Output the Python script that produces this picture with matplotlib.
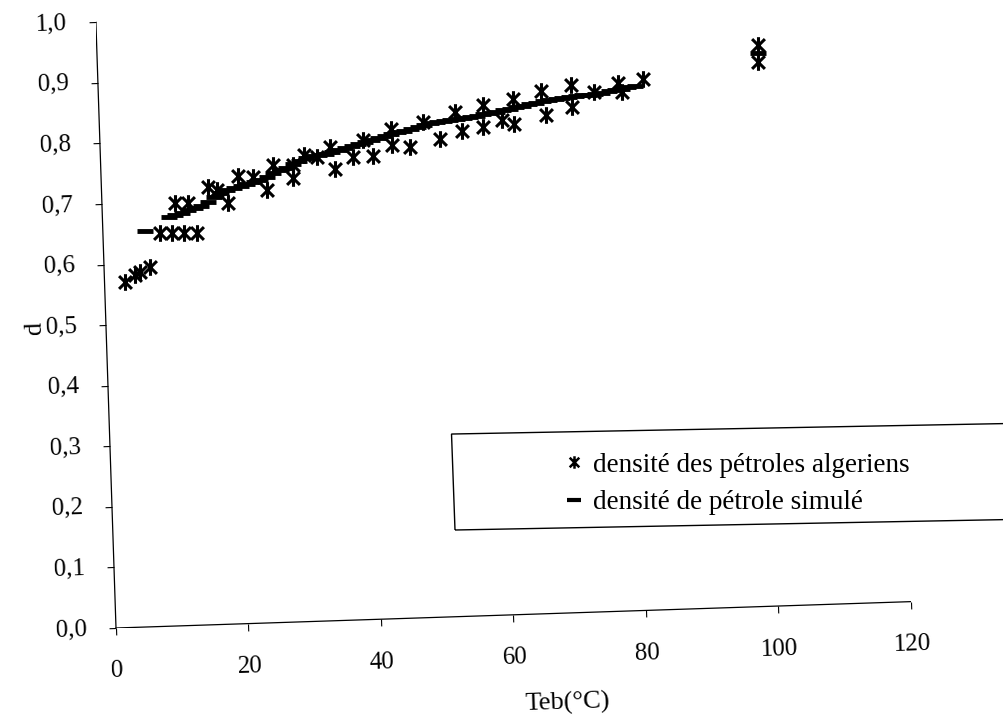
import numpy as np
import matplotlib.pyplot as plt
from matplotlib.path import Path
from matplotlib.lines import Line2D
from matplotlib.patches import Rectangle
from matplotlib.transforms import Affine2D
import mpl_toolkits.axisartist.floating_axes as floating_axes
from mpl_toolkits.axisartist.grid_finder import FixedLocator, DictFormatter

plt.rcParams['font.family'] = ['Liberation Serif', 'DejaVu Serif']

# =========================
# Data
# =========================
# measured densities of Algerian crude fractions
teb_mesure = [3.1, 4.6, 5.4, 6.9,
              8.6, 10.4, 12.2, 14.2,
              11.0, 13.0, 16.1, 17.4, 19.0, 20.7, 22.9, 25.0, 26.0,
              29.0, 29.0, 30.7, 32.7, 34.7, 35.4, 38.1, 39.7, 41.2,
              44.0, 44.1, 46.8, 48.9, 51.4, 53.8, 54.7, 58.0, 57.9,
              60.8, 62.6, 62.5, 66.8, 67.5, 71.4, 71.4, 74.8, 78.4,
              79.0, 82.3,
              99.7, 99.7]
d_mesure = [0.570, 0.581, 0.586, 0.594,
            0.649, 0.649, 0.648, 0.647,
            0.698, 0.697, 0.723, 0.717, 0.694, 0.739, 0.737, 0.714, 0.755,
            0.733, 0.754, 0.770, 0.765, 0.782, 0.745, 0.764, 0.792, 0.765,
            0.808, 0.782, 0.778, 0.818, 0.789, 0.833, 0.801, 0.843, 0.807,
            0.817, 0.851, 0.810, 0.863, 0.823, 0.871, 0.835, 0.858, 0.872,
            0.857, 0.877,
            0.927, 0.899]

# simulated density
teb_simule = [6.4, 10, 11, 12, 13, 14, 15, 16, 17, 18, 19, 20, 21, 22, 23,
              24, 25, 26, 27, 28, 29, 30, 31, 32, 33, 34, 35, 36, 37, 38,
              39, 40, 41, 42, 43, 44, 45, 46, 47, 48, 49, 50, 51, 52, 53,
              54, 55, 56, 57, 58, 59, 60, 61, 62, 63, 64, 65, 66, 67, 68,
              69, 70, 71, 72, 73, 74, 75, 76, 77, 78, 79, 80, 81, 99.7]
d_simule = [0.653, 0.675, 0.678, 0.681, 0.685, 0.688, 0.692, 0.698, 0.706,
            0.712, 0.716, 0.719, 0.722, 0.725, 0.728, 0.731, 0.736, 0.741,
            0.746, 0.750, 0.755, 0.760, 0.765, 0.767, 0.769, 0.771, 0.774,
            0.776, 0.779, 0.782, 0.785, 0.788, 0.791, 0.793, 0.796, 0.799,
            0.802, 0.804, 0.807, 0.810, 0.813, 0.815, 0.817, 0.818, 0.819,
            0.820, 0.822, 0.824, 0.825, 0.827, 0.829, 0.831, 0.833, 0.835,
            0.837, 0.839, 0.841, 0.843, 0.845, 0.847, 0.849, 0.850, 0.851,
            0.852, 0.853, 0.854, 0.855, 0.856, 0.858, 0.860, 0.862, 0.864,
            0.866, 0.913]

x_ticks = [0, 20, 40, 60, 80, 100, 120]
y_ticks = [0.0, 0.1, 0.2, 0.3, 0.4, 0.5, 0.6, 0.7, 0.8, 0.9, 1.0]
y_tick_labels = ["0,0", "0,1", "0,2", "0,3", "0,4", "0,5",
                 "0,6", "0,7", "0,8", "0,9", "1,0"]

# =========================
# Figure and tilted axes
# =========================
W, H = 1004, 725
fig = plt.figure(figsize=(W / 100, H / 100), dpi=100)

angle = 1.9              # page tilt (deg)
len_x, len_y = 795, 606  # axis lengths in pixels
origin = (116, 97)       # axis origin in figure pixels

tr = Affine2D().scale(len_x / 120, len_y / 1.0).rotate_deg(angle)

grid_helper = floating_axes.GridHelperCurveLinear(
    tr, extremes=(0, 120, 0, 1),
    grid_locator1=FixedLocator(x_ticks),
    grid_locator2=FixedLocator(y_ticks),
    tick_formatter1=DictFormatter({v: str(v) for v in x_ticks}),
    tick_formatter2=DictFormatter(dict(zip(y_ticks, y_tick_labels))))

corners = tr.transform([(0, 0), (120, 0), (0, 1), (120, 1)])
xmin, ymin = corners.min(axis=0)
xmax, ymax = corners.max(axis=0)
rect = [(origin[0] + xmin) / W, (origin[1] + ymin) / H,
        (xmax - xmin) / W, (ymax - ymin) / H]

ax = fig.add_axes(rect, axes_class=floating_axes.FloatingAxes,
                  grid_helper=grid_helper)
ax.set_xlim(xmin, xmax)
ax.set_ylim(ymin, ymax)
ax.patch.set_visible(False)

for side in ("top", "right"):
    ax.axis[side].set_visible(False)

for side in ("left", "bottom"):
    a = ax.axis[side]
    a.line.set_linewidth(0.9)
    a.major_ticks.set_tick_out(True)
    a.major_ticks.set_ticksize(5)
    a.major_ticklabels.set_fontsize(18)

ax.axis["left"].major_ticklabels.set_pad(16)
ax.axis["bottom"].major_ticklabels.set_pad(18)

ax.axis["left"].label.set_text("d")
ax.axis["left"].label.set_fontsize(19)
ax.axis["left"].label.set_pad(0)
ax.axis["left"].label.set_visible(True)

# x title sits right of the axis centre
fig.text(568 / W, 1 - 703 / H, "Teb(°C)", fontsize=19, ha="center",
         va="center", rotation=angle, rotation_mode="anchor")

aux = ax.get_aux_axes(tr)

# asterisk marker: an X crossed by a vertical bar
star = Path([(-1, -1), (1, 1), (-1, 1), (1, -1), (0, -1.3), (0, 1.3)],
            [Path.MOVETO, Path.LINETO, Path.MOVETO, Path.LINETO,
             Path.MOVETO, Path.LINETO])

aux.plot(teb_mesure, d_mesure, linestyle="none", marker=star, markersize=12,
         markeredgewidth=2.2, color="black", clip_on=False)
aux.plot(teb_simule, d_simule, linestyle="none", marker="_", markersize=11,
         markeredgewidth=3.5, color="black", clip_on=False)

# =========================
# Legend
# =========================
handles = [
    Line2D([], [], linestyle="none", marker=star, markersize=9,
           markeredgewidth=1.8, color="black"),
    Line2D([], [], linestyle="none", marker="_", markersize=10,
           markeredgewidth=3, color="black"),
]
labels = ["densité des pétroles algeriens", "densité de pétrole simulé"]
fig.legend(handles, labels, loc="center left", frameon=False,
           bbox_to_anchor=(550 / W, 1 - 484 / H), fontsize=19.5,
           handlelength=0.8, handletextpad=0.3, labelspacing=0.45,
           borderpad=0)
fig.patches.append(Rectangle((455 / W, 1 - 530 / H), 560 / W, 96 / H,
                             transform=fig.transFigure, fill=False,
                             edgecolor="black", linewidth=1.0,
                             angle=1.5, rotation_point="xy"))

plt.savefig("out.png", dpi=100)
